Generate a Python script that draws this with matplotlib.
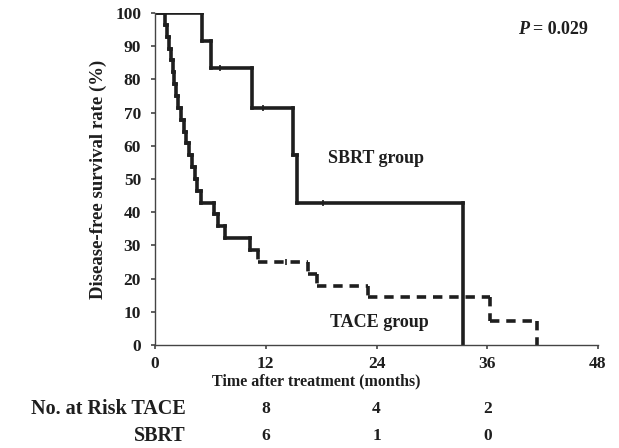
import numpy as np
import matplotlib.pyplot as plt
from matplotlib.collections import LineCollection

plt.rcParams['font.family'] = ['Liberation Serif', 'DejaVu Serif']
plt.rcParams['font.weight'] = 'bold'

# SBRT group: event times (months) and survival after each drop (%)
sbrt_times = [5.1, 6.1, 10.5, 14.9, 15.35, 33.4]
sbrt_surv = [91.7, 83.3, 71.4, 57.1, 42.9, 0.0]
sbrt_cens_t = [7.0, 11.7, 18.2]
sbrt_cens_s = [83.3, 71.4, 42.9]

# TACE group
tace_times = [1.1, 1.3, 1.5, 1.7, 1.9, 2.1, 2.3, 2.5, 2.8, 3.1, 3.4, 3.7,
              4.0, 4.3, 4.6, 5.0, 6.4, 6.8, 7.6, 10.3, 11.2, 16.6, 17.6,
              23.1, 36.3, 41.4]
tace_surv = [96.4, 92.9, 89.3, 85.7, 82.1, 78.6, 75.0, 71.4, 67.9, 64.3,
             60.7, 57.1, 53.6, 50.0, 46.4, 42.9, 39.3, 35.7, 32.1, 28.6,
             25.0, 21.4, 17.9, 14.3, 7.1, 0.0]
tace_cens_t = [14.2]
tace_cens_s = [25.0]

risk_months = [12, 24, 36]
risk_tace = [8, 4, 2]
risk_sbrt = [6, 1, 0]

ink = '#1e1e1e'
dense_until = 11.2   # steep part of TACE curve drawn unbroken


def step_segments(times, surv):
    segs = []
    t0, s0 = 0.0, 100.0
    for t, s in zip(times, surv):
        segs.append([(t0, s0), (t, s0)])
        segs.append([(t, s0), (t, s)])
        t0, s0 = t, s
    return segs


fig = plt.figure(figsize=(6.19, 4.48), dpi=100)
ax = fig.add_axes([0.2504, 0.23, 0.7157, 0.741])

sb = LineCollection(step_segments(sbrt_times, sbrt_surv), colors=ink,
                    linewidths=2.6, capstyle='projecting', joinstyle='miter')
ax.add_collection(sb)

tace_segs = step_segments(tace_times, tace_surv)
solid = [s for s in tace_segs if s[0][0] < dense_until]
dashed = [s for s in tace_segs if s[0][0] >= dense_until]
ax.add_collection(LineCollection(solid, colors=ink, linewidths=2.6,
                                 capstyle='projecting'))
ax.add_collection(LineCollection(dashed, colors=ink, linewidths=2.6,
                                 linestyles=[(0, (2.6, 1.9))], capstyle='butt'))
ax.plot(sbrt_cens_t, sbrt_cens_s, ls='none', marker='|', ms=5, mew=1.2, color=ink)
ax.plot(tace_cens_t, tace_cens_s, ls='none', marker='|', ms=5, mew=1.2, color=ink)

ax.set_xlim(0, 48)
ax.set_ylim(0, 100)
ax.set_xticks([0, 12, 24, 36, 48])
ax.set_yticks(np.arange(0, 101, 10))
for side in ['top', 'right']:
    ax.spines[side].set_visible(False)
for side in ['left', 'bottom']:
    ax.spines[side].set_color('#444444')
    ax.spines[side].set_linewidth(1.0)
ax.tick_params(axis='both', length=3, width=1.2, color='#444444',
               labelsize=12.5, labelcolor=ink)
ax.tick_params(axis='x', pad=5)
ax.tick_params(axis='y', pad=7)
for lbl in ax.get_xticklabels() + ax.get_yticklabels():
    lbl.set_fontweight('bold')

ax.set_ylabel('Disease-free survival rate (%)', fontsize=13.5, fontweight='bold',
              color=ink, labelpad=6)

ax.text(18.7, 56.3, 'SBRT group', fontsize=13, fontweight='bold', color=ink,
        va='center', ha='left')
ax.text(19.0, 6.9, 'TACE group', fontsize=13, fontweight='bold', color=ink,
        va='center', ha='left')
ax.text(39.3, 94.9, 'P', fontsize=13, fontweight='bold', style='italic',
        color=ink, va='center', ha='left')
ax.text(41.0, 94.9, '= 0.029', fontsize=13, fontweight='bold', color=ink,
        va='center', ha='left')

fig.text(316 / 619, 1 - 381 / 448, 'Time after treatment (months)', fontsize=11.5,
         fontweight='bold', color=ink, ha='center', va='center')

row_y = [1 - 409 / 448, 1 - 436 / 448]
fig.text(186 / 619, row_y[0], 'No. at Risk TACE', fontsize=14.5, fontweight='bold',
         color=ink, ha='right', va='center')
fig.text(186 / 619, row_y[1], 'SBRT', fontsize=14.5, fontweight='bold',
         color=ink, ha='right', va='center')
for m, a, b in zip(risk_months, risk_tace, risk_sbrt):
    xf = ax.transData.transform((m, 0))[0] / fig.bbox.width
    fig.text(xf, row_y[0], str(a), fontsize=12.5, fontweight='bold', color=ink,
             ha='center', va='center')
    fig.text(xf, row_y[1], str(b), fontsize=12.5, fontweight='bold', color=ink,
             ha='center', va='center')

fig.savefig('out.png', dpi=100)
